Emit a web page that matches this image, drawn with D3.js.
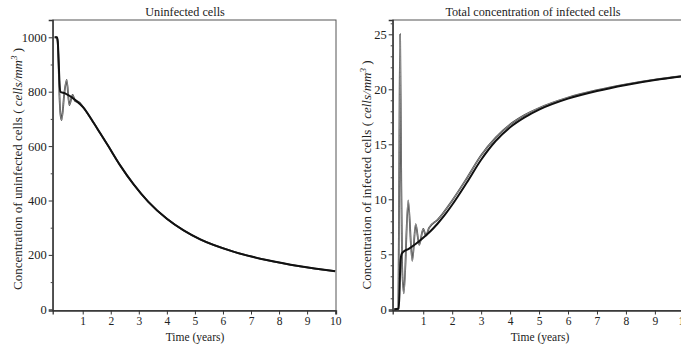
<!DOCTYPE html>
<html><head><meta charset="utf-8">
<script src="https://cdn.jsdelivr.net/npm/d3@7"></script>
<style>body{margin:0;background:#fff}svg{display:block}text{font-family:"Liberation Serif","Times New Roman",serif;fill:#222}</style>
</head><body><svg id="c" width="681" height="345"></svg>
<script>
// ---- data ----
const xTicks = [1,2,3,4,5,6,7,8,9,10];
const leftYTicks = [0,200,400,600,800,1000];
const leftYMinor = [100,300,500,700,900];
const rightYTicks = [0,5,10,15,20,25];
const rightYMinor = [1,2,3,4,6,7,8,9,11,12,13,14,16,17,18,19,21,22,23,24,26];

const uninfSmoothT = [0,0.08,0.11,0.14,0.17,0.2,0.37,0.73,1.02,1.32,1.62,1.9,2.33,2.81,3.34,4.0,4.6,5.19,6.37,7.56,8.75,10];
const uninfSmoothV = [1000,1000,985,920,840,800,794,770,742,697,648,602,530,460,395,333,290,257,212,181,158,140];
const uninfOscT = [0,0.08,0.11,0.14,0.17,0.21,0.25,0.34,0.43,0.52,0.64,0.73,0.85,1.02,1.32,1.62,1.9,2.33,2.81,3.34,4.0,4.6,5.19,6.37,7.56,8.75,10];
const uninfOscV = [1000,1000,980,900,790,715,696,790,843,751,788,765,763,742,697,648,602,530,460,395,333,290,257,212,181,158,140];

const infSmoothT = [0,0.15,0.18,0.21,0.25,0.3,0.5,0.77,1.0,1.23,1.5,1.75,2.0,2.5,3.0,3.5,4.0,4.5,5,6,7,8,9,10];
const infSmoothV = [0,0.05,1.5,4.2,5.0,5.2,5.5,6.0,6.5,7.05,7.8,8.6,9.5,11.5,13.6,15.3,16.55,17.45,18.15,19.15,19.85,20.4,20.85,21.2];
const infOscT = [0,0.14,0.17,0.2,0.23,0.27,0.33,0.48,0.62,0.74,0.86,1.0,1.09,1.2,1.5,2,2.5,3,3.5,4,4.5,5,6,7,8,9,10];
const infOscV = [0,0.1,12,25,15,4,1.45,9.9,4.4,7.75,5.85,7.3,6.7,7.4,8.15,9.9,11.9,14.0,15.6,16.8,17.65,18.3,19.25,19.92,20.45,20.88,21.22];

// ---- drawing ----
const svg = d3.select("#c");
svg.append("rect").attr("width",681).attr("height",345).attr("fill","#fff");

function panel(o){
  const x = d3.scaleLinear().domain(o.xd).range([o.x0,o.x1]);
  const y = d3.scaleLinear().domain(o.yd).range([310.5,20]);
  const g = svg.append("g");
  g.append("rect").attr("x",o.x0).attr("y",20).attr("width",o.x1-o.x0).attr("height",290.5)
    .attr("fill","none").attr("stroke","#555").attr("stroke-width",1);
  const ya = g.append("g").attr("transform",`translate(${o.x0},0)`)
    .call(d3.axisLeft(y).tickValues(o.yt).tickSize(4).tickPadding(2).tickFormat(d3.format("d")));
  ya.select(".domain").attr("stroke","#333").attr("stroke-width",1.3);
  ya.selectAll(".tick line").attr("stroke","#333");
  ya.selectAll("text").attr("font-size","12.5px").attr("fill","#222");
  const ym = g.append("g").attr("transform",`translate(${o.x0},0)`)
    .call(d3.axisLeft(y).tickValues(o.ym).tickSize(2).tickFormat(""));
  ym.select(".domain").remove();
  ym.selectAll(".tick line").attr("stroke","#444");
  const xa = g.append("g").attr("transform",`translate(0,310.5)`)
    .call(d3.axisBottom(x).tickValues(xTicks).tickSize(4).tickPadding(2).tickFormat(d3.format("d")));
  xa.select(".domain").attr("stroke","#333").attr("stroke-width",1.3);
  xa.selectAll(".tick line").attr("stroke","#333");
  xa.selectAll("text").attr("font-size","11.5px").attr("fill","#222");
  const cid = "clip"+o.id;
  svg.append("clipPath").attr("id",cid).append("rect").attr("x",o.x0).attr("y",19).attr("width",o.x1-o.x0).attr("height",292);
  const line = d3.line().x(d=>x(d[0])).y(d=>y(d[1])).curve(d3.curveMonotoneX);
  const osc = o.oscT.map((t,i)=>[t,o.oscV[i]]);
  const sm = o.smT.map((t,i)=>[t,o.smV[i]]);
  const lg = g.append("g").attr("clip-path",`url(#${cid})`);
  lg.append("path").attr("d",line(osc)).attr("fill","none").attr("stroke","#444").attr("stroke-width",1.8);
  lg.append("path").attr("d",line(osc)).attr("fill","none").attr("stroke","#bbb").attr("stroke-width",0.6);
  lg.append("path").attr("d",line(sm)).attr("fill","none").attr("stroke","#111").attr("stroke-width",2);
  g.append("text").attr("x",o.tx).attr("y",16).attr("text-anchor","middle").attr("font-size","12.2px").text(o.title);
  g.append("text").attr("x",o.xlx).attr("y",340.5).attr("text-anchor","middle").attr("font-size","11.5px").text("Time (years)");
  const yl = g.append("text").attr("transform",`translate(${o.ylx},${o.yly}) rotate(-90)`)
    .attr("text-anchor","middle").attr("font-size","13px");
  yl.append("tspan").text(o.ylabel+" ( ");
  yl.append("tspan").attr("font-style","italic").text("cells/mm");
  yl.append("tspan").attr("font-style","italic").attr("dy",-5).attr("font-size","9px").text("3");
  yl.append("tspan").attr("dy",5).text(" )");
}

panel({id:"L", xd:[-0.07,10.03], x0:52.7, x1:336, yd:[-4.4,1063.6], yt:leftYTicks, ym:leftYMinor,
  smT:uninfSmoothT, smV:uninfSmoothV, oscT:uninfOscT, oscV:uninfOscV,
  title:"Uninfected cells", tx:185, xlx:195, ylx:21.5, yly:169,
  ylabel:"Concentration of uninfected cells"});
panel({id:"R", xd:[-0.055,10.03], x0:392.7, x1:684.7, yd:[-0.11,26.3], yt:rightYTicks, ym:rightYMinor,
  smT:infSmoothT, smV:infSmoothV, oscT:infOscT, oscV:infOscV,
  title:"Total concentration of infected cells", tx:533, xlx:540, ylx:371, yly:175,
  ylabel:"Concentration of infected cells"});
</script></body></html>
